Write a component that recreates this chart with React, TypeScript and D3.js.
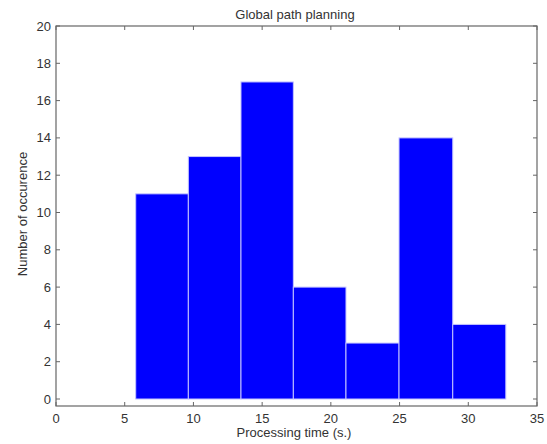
import React from "react";
import * as d3 from "d3";

const binEdges = [5.8, 9.63, 13.46, 17.27, 21.1, 24.96, 28.87, 32.73];
const counts = [11, 13, 17, 6, 3, 14, 4];
const xTicks = [0, 5, 10, 15, 20, 25, 30, 35];
const yTicks = [0, 2, 4, 6, 8, 10, 12, 14, 16, 18, 20];
const title = "Global path planning";
const xLabel = "Processing time (s.)";
const yLabel = "Number of occurence";

const W = 547, H = 444;
const L = 56, R = 537, T = 26, B = 406;

export default function App() {
  const x = d3.scaleLinear().domain([0, 35]).range([L, R]);
  const y = d3.scaleLinear().domain([-0.375, 20]).range([B, T]);
  const axisColor = "#666";
  const textColor = "#333";
  const font = "'Liberation Sans', Arial, sans-serif";
  const tl = 4;
  const fs = 13;
  return (
    <svg width={W} height={H} style={{ position: "absolute", left: 0, top: 0, background: "#fff" }} fontFamily={font}>
      {counts.map((c, i) => (
        <rect key={i}
          x={x(binEdges[i])} y={y(c)}
          width={x(binEdges[i + 1]) - x(binEdges[i])}
          height={y(0) - y(c)}
          fill="#0000ff" stroke="#c4c4ff" strokeWidth={1} />
      ))}
      <rect x={L} y={T} width={R - L} height={B - T} fill="none" stroke={axisColor} strokeWidth={1.2} />
      {xTicks.map((t) => (
        <g key={"x" + t}>
          <line x1={x(t)} x2={x(t)} y1={B} y2={B - tl} stroke={axisColor} />
          <line x1={x(t)} x2={x(t)} y1={T} y2={T + tl} stroke={axisColor} />
          <text x={x(t)} y={423} textAnchor="middle" fontSize={fs} fill={textColor}>{t}</text>
        </g>
      ))}
      {yTicks.map((t) => (
        <g key={"y" + t}>
          <line x1={L} x2={L + tl} y1={y(t)} y2={y(t)} stroke={axisColor} />
          <line x1={R} x2={R - tl} y1={y(t)} y2={y(t)} stroke={axisColor} />
          <text x={51} y={y(t) + 4.5} textAnchor="end" fontSize={fs} fill={textColor}>{t}</text>
        </g>
      ))}
      <text x={295} y={19} textAnchor="middle" fontSize={fs} fill={textColor}>{title}</text>
      <text x={294} y={437} textAnchor="middle" fontSize={fs} fill={textColor}>{xLabel}</text>
      <text transform={`translate(27, 214) rotate(-90)`} textAnchor="middle" fontSize={fs} fill={textColor}>{yLabel}</text>
    </svg>
  );
}
